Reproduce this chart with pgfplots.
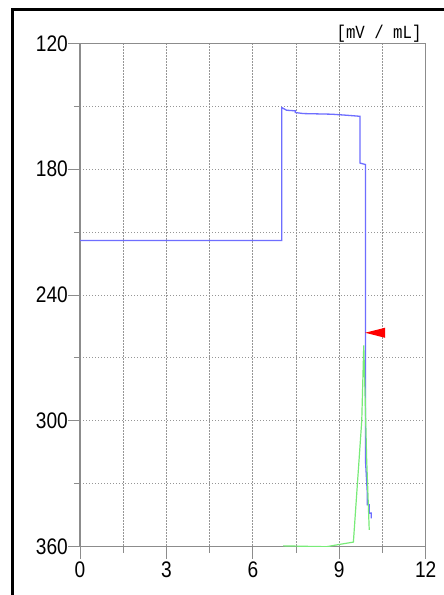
\documentclass[border=0pt]{standalone}
\usepackage{pgfplots}
\pgfplotsset{compat=1.18}
\usepackage{fontspec}
\setmainfont{Liberation Sans}
\newfontfamily\tickfont[FakeStretch=0.85]{Liberation Sans}
\newfontfamily\unitfont[FakeStretch=0.85]{Liberation Mono}
\definecolor{bl}{RGB}{110,110,255}
\definecolor{gr}{RGB}{120,235,120}
\definecolor{gridc}{RGB}{150,150,150}
\definecolor{axc}{RGB}{140,140,140}
\begin{document}
\begin{tikzpicture}[x=1pt,y=1pt]
\useasboundingbox (0,0) rectangle (444,595);
\clip (0,0) rectangle (444,595);
\fill[white] (0,0) rectangle (444,595);
\draw[line width=2.5pt] (12.5,-20) rectangle (470,585.5);
\begin{axis}[
  name=ax,
  at={(80pt,48.3pt)}, anchor=south west,
  scale only axis, width=345.7pt, height=503.4pt,
  xmin=0, xmax=12, ymin=120, ymax=360, y dir=reverse,
  xtick={0,3,6,9,12}, minor xtick={1.5,4.5,7.5,10.5},
  ytick={120,180,240,300,360}, minor ytick={150,210,270,330},
  grid=both,
  major grid style={gridc, dash pattern=on 1.2pt off 1.8pt, line width=0.9pt},
  minor grid style={gridc, dash pattern=on 1.2pt off 1.8pt, line width=0.9pt},
  tick align=outside, tick pos=left,
  major tick length=12pt, minor tick length=6pt,
  every tick/.style={axc, line width=1pt},
  axis line style={axc, line width=1.3pt},
  tick label style={font=\tickfont\fontsize{22.5}{22.5}\selectfont, black, inner sep=0pt},
  xticklabel style={yshift=-3pt},
  /pgf/number format/assume math mode=true,
]
\addplot[bl, line width=1.3pt] coordinates {(0,214)(7.0,214)(7.0,150.6)(7.17,151.9)(7.47,152.2)(7.47,153)(7.76,153.5)(8.74,153.8)(9.26,154.3)(9.72,154.8)(9.72,177.1)(9.91,177.8)(9.91,319)(9.97,333.6)(9.97,340)(10.04,340)(10.04,344)(10.11,344)(10.11,346.5)};
\addplot[gr, line width=1.2pt] coordinates {(7.05,359.6)(7.8,359.8)(8.56,360)(8.97,359)(9.49,357.8)(9.78,300)(9.85,264)(9.9,290)(9.95,318)(10.04,352)};
\addplot[fill=red, draw=none] coordinates {(9.9,258)(10.59,255.6)(10.59,260.4)} -- cycle;
\end{axis}
\node[anchor=base east, inner sep=0pt, font=\unitfont\fontsize{18.5}{18.5}\selectfont] at ([xshift=-4pt, yshift=5pt]ax.north east) {[mV / mL]};
\end{tikzpicture}
\end{document}
